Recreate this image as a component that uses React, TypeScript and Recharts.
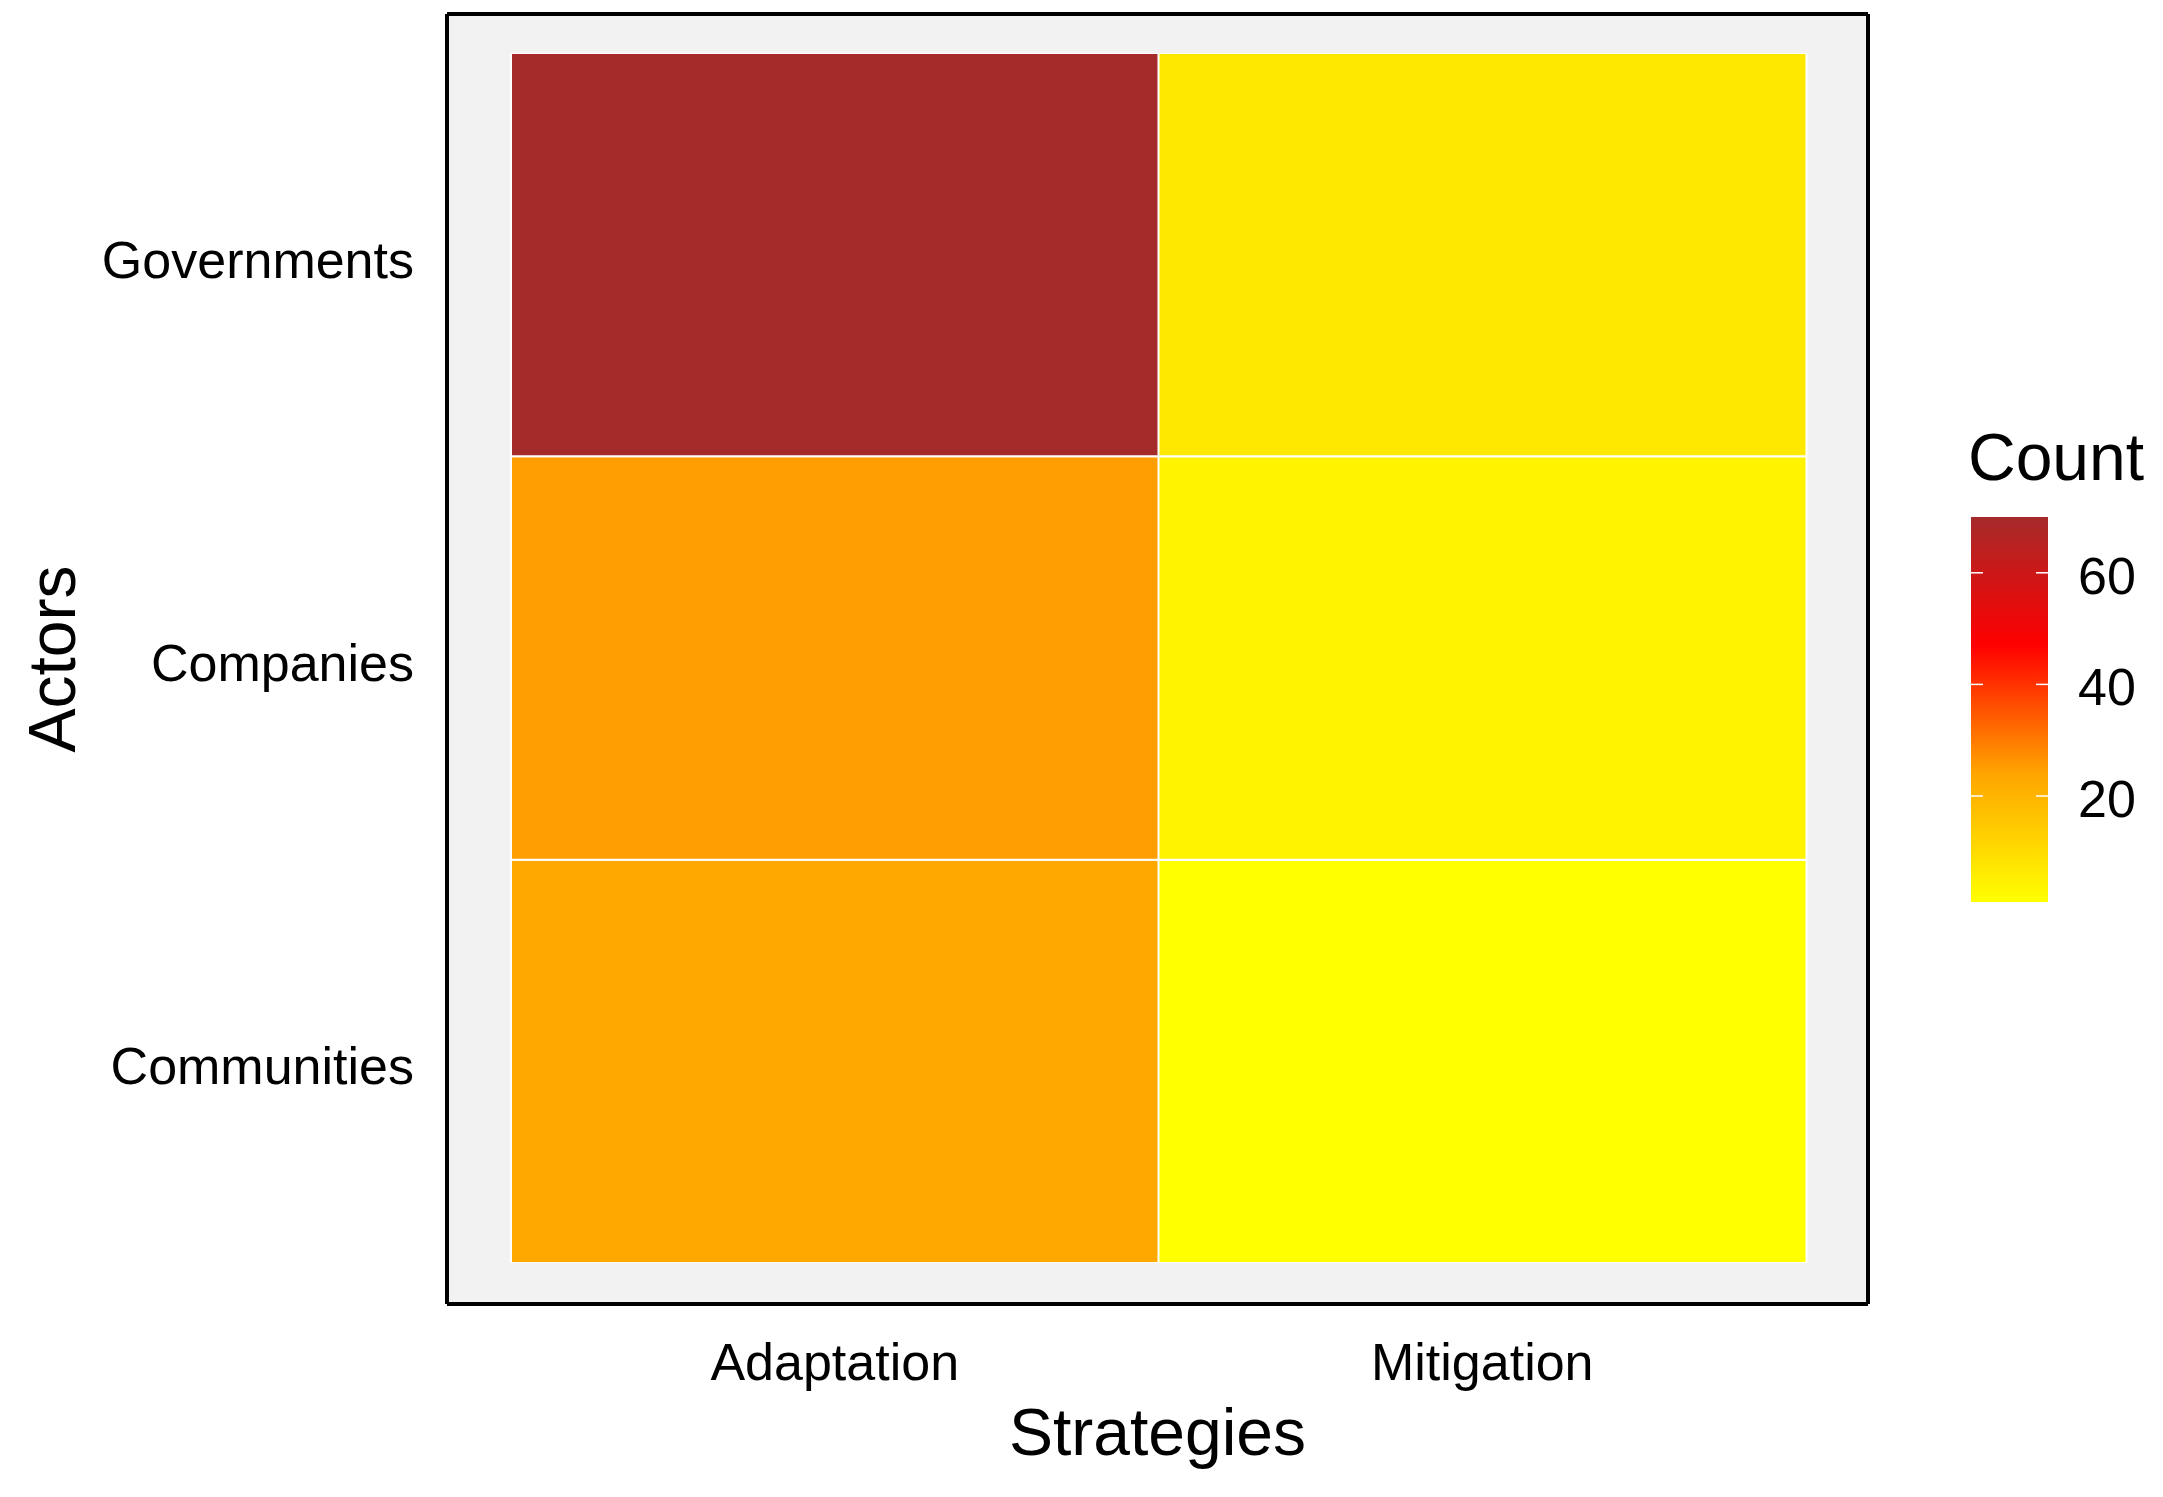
import { BarChart, Bar, Cell, XAxis, YAxis, CartesianGrid, Label } from "recharts"

const strategies = ["Adaptation", "Mitigation"]
// bottom to top, like the y axis
const actors = ["Communities", "Companies", "Governments"]
const adaptationCounts = [23, 25, 70]
const mitigationCounts = [1, 4, 7]
const actorTicks = [0.5, 1.5, 2.5]
const legendTicks = [20, 40, 60]
const palette = ["#FFFF00", "#FFA500", "#FF0000", "#A52A2A"]

const FONT = "'Liberation Sans', Arial, sans-serif"

const countsByStrategy = [adaptationCounts, mitigationCounts]
const allCounts = [...adaptationCounts, ...mitigationCounts]
const minCount = Math.min(...allCounts)
const maxCount = Math.max(...allCounts)

const hexToRgb = (hex: string) => [1, 3, 5].map((i) => parseInt(hex.slice(i, i + 2), 16))

function fillFor(value: number) {
  const t = ((value - minCount) / (maxCount - minCount)) * (palette.length - 1)
  const i = Math.min(Math.floor(t), palette.length - 2)
  const f = t - i
  const a = hexToRgb(palette[i])
  const b = hexToRgb(palette[i + 1])
  const c = a.map((v, k) => Math.round(v + (b[k] - v) * f))
  return `rgb(${c[0]},${c[1]},${c[2]})`
}

// every tile takes one row unit on the actor axis
const data = strategies.map((strategy) => {
  const row: any = { strategy }
  actors.forEach((a) => (row[a] = 1))
  return row
})

const ActorTick = (props: any) => {
  const { x, y, payload } = props
  return (
    <text x={x} y={y + 5} textAnchor="end" dominantBaseline="central" fontSize={52} fontFamily={FONT} fill="#000">
      {actors[Math.floor(payload.value)]}
    </text>
  )
}

const StrategyTick = (props: any) => {
  const { x, y, payload } = props
  return (
    <text x={x} y={y + 76} textAnchor="middle" fontSize={52} fontFamily={FONT} fill="#000">
      {payload.value}
    </text>
  )
}

const ActorsTitle = (props: any) => {
  const vb = props.viewBox || { x: 0, y: 14, width: 447, height: 1290 }
  const cx = 52
  const cy = vb.y + vb.height / 2
  return (
    <text x={cx} y={cy} transform={`rotate(-90, ${cx}, ${cy})`} textAnchor="middle" dominantBaseline="central" fontSize={66} fontFamily={FONT} fill="#000">
      Actors
    </text>
  )
}

const StrategiesTitle = (props: any) => {
  const vb = props.viewBox || { x: 447, y: 1304, width: 1421, height: 193 }
  return (
    <text x={vb.x + vb.width / 2} y={vb.y + 151} textAnchor="middle" fontSize={66} fontFamily={FONT} fill="#000">
      Strategies
    </text>
  )
}

function ColorBar() {
  const barTop = 517
  const barBottom = 902
  const barLeft = 1971
  const barWidth = 77
  const yOf = (v: number) => barBottom - ((v - minCount) / (maxCount - minCount)) * (barBottom - barTop)
  return (
    <svg width={2163} height={1497} style={{ position: "absolute", left: 0, top: 0, pointerEvents: "none" }}>
      <defs>
        <linearGradient id="countGrad" x1="0" y1="1" x2="0" y2="0">
          {palette.map((c, i) => (
            <stop key={c} offset={i / (palette.length - 1)} stopColor={c} />
          ))}
        </linearGradient>
      </defs>
      <text x={1968} y={480} fontSize={66} fontFamily={FONT} fill="#000">
        Count
      </text>
      <rect x={barLeft} y={barTop} width={barWidth} height={barBottom - barTop} fill="url(#countGrad)" />
      {legendTicks.map((t) => (
        <g key={t}>
          <line x1={barLeft} x2={barLeft + 12} y1={yOf(t)} y2={yOf(t)} stroke="#fff" strokeWidth={1.5} />
          <line x1={barLeft + barWidth - 12} x2={barLeft + barWidth} y1={yOf(t)} y2={yOf(t)} stroke="#fff" strokeWidth={1.5} />
          <text x={2078} y={yOf(t) + 3} dominantBaseline="central" fontSize={52} fontFamily={FONT} fill="#000">
            {t}
          </text>
        </g>
      ))}
    </svg>
  )
}

export default function App() {
  return (
    <div style={{ position: "absolute", left: 0, top: 0, width: 2163, height: 1497, background: "#fff" }}>
      <BarChart
        width={2163}
        height={1497}
        data={data}
        margin={{ top: 14, right: 295, bottom: 0, left: 0 }}
        barCategoryGap={0}
        barGap={0}
      >
        <CartesianGrid
          fill="#F2F2F2"
          stroke="#000"
          strokeWidth={4}
          horizontalCoordinatesGenerator={({ offset }: any) =>
            offset ? [offset.top, offset.top + offset.height] : [14, 1304]
          }
          verticalCoordinatesGenerator={({ offset }: any) =>
            offset ? [offset.left, offset.left + offset.width] : [447, 1868]
          }
        />
        <XAxis
          dataKey="strategy"
          type="category"
          height={193}
          padding={{ left: 64, right: 62 }}
          axisLine={false}
          tickLine={false}
          tickSize={0}
          tickMargin={0}
          tick={<StrategyTick />}
        >
          <Label content={<StrategiesTitle />} />
        </XAxis>
        <YAxis
          type="number"
          width={447}
          domain={[0, 3]}
          ticks={actorTicks}
          padding={{ top: 39, bottom: 41 }}
          axisLine={false}
          tickLine={false}
          tickSize={0}
          tickMargin={33}
          tick={<ActorTick />}
          allowDataOverflow
        >
          <Label content={<ActorsTitle />} />
        </YAxis>
        {actors.map((actor, a) => (
          <Bar key={actor} dataKey={actor} stackId="tiles" stroke="#fff" strokeWidth={2} isAnimationActive={false}>
            {strategies.map((s, i) => (
              <Cell key={s} fill={fillFor(countsByStrategy[i][a])} />
            ))}
          </Bar>
        ))}
      </BarChart>
      <ColorBar />
    </div>
  )
}
